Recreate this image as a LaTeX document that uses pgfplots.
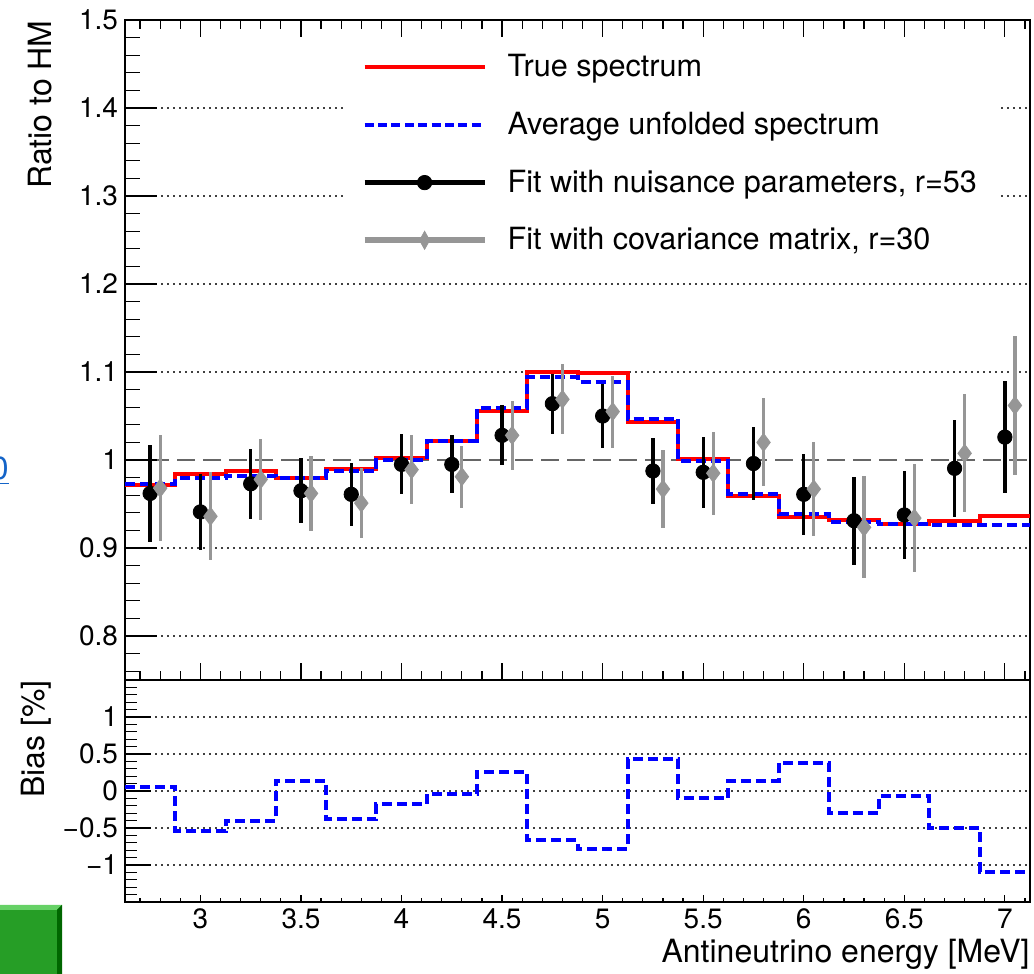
\documentclass[border=0pt]{standalone}
\usepackage{fontspec}
\setmainfont{TeX Gyre Heros}
\usepackage{pgfplots}
\usepackage{pgfplotstable}
\pgfplotsset{compat=1.18}

\definecolor{rootgrey}{RGB}{150,150,150}
\definecolor{linkblue}{RGB}{20,100,200}

% true spectrum (bin left edges, last row = right edge)
\pgfplotstableread{
x y
2.625 0.972
2.875 0.984
3.125 0.987
3.375 0.979
3.625 0.990
3.875 1.002
4.125 1.022
4.375 1.056
4.625 1.100
4.875 1.0985
5.125 1.0436
5.375 1.001
5.625 0.959
5.875 0.9356
6.125 0.932
6.375 0.927
6.625 0.931
6.875 0.936
7.125 0.936
}\truespec

\pgfplotstableread{
x y
2.625 0.973
2.875 0.979
3.125 0.982
3.375 0.980
3.625 0.987
3.875 1.000
4.125 1.022
4.375 1.059
4.625 1.094
4.875 1.089
5.125 1.047
5.375 0.999
5.625 0.961
5.875 0.939
6.125 0.930
6.375 0.927
6.625 0.926
6.875 0.926
7.125 0.926
}\avgspec

\pgfplotstableread{
x y e
2.75 0.962 0.055
3.00 0.941 0.043
3.25 0.973 0.040
3.50 0.965 0.037
3.75 0.961 0.036
4.00 0.995 0.034
4.25 0.995 0.033
4.50 1.028 0.034
4.75 1.064 0.034
5.00 1.050 0.036
5.25 0.9875 0.038
5.50 0.986 0.040
5.75 0.996 0.042
6.00 0.961 0.046
6.25 0.931 0.050
6.50 0.9375 0.050
6.75 0.9905 0.055
7.00 1.026 0.064
}\fitnuis

\pgfplotstableread{
x y e
2.80 0.968 0.060
3.05 0.936 0.050
3.30 0.978 0.046
3.55 0.962 0.043
3.80 0.951 0.040
4.05 0.989 0.039
4.30 0.981 0.035
4.55 1.028 0.039
4.80 1.069 0.040
5.05 1.055 0.041
5.30 0.967 0.044
5.55 0.985 0.047
5.80 1.020 0.050
6.05 0.967 0.053
6.30 0.9235 0.058
6.55 0.934 0.061
6.80 1.0076 0.067
7.05 1.062 0.079
}\fitcov

\pgfplotstableread{
x y
2.625 0.06
2.875 -0.54
3.125 -0.40
3.375 0.14
3.625 -0.38
3.875 -0.18
4.125 -0.04
4.375 0.26
4.625 -0.66
4.875 -0.78
5.125 0.43
5.375 -0.10
5.625 0.14
5.875 0.38
6.125 -0.30
6.375 -0.07
6.625 -0.50
6.875 -1.09
7.125 -1.09
}\bias

\pgfplotsset{
  rootaxis/.style={
    scale only axis, width=452.5pt, xmin=2.625, xmax=7.125,
    anchor=south west,
    axis line style={line width=0.75pt, black},
    tick style={line width=0.6pt, black},
    tick align=inside,
    /pgf/number format/assume math mode=true,
    tick label style={font=\fontsize{14}{16}\selectfont},
  },
  dotgrid/.style={black!75, line width=0.6pt, dash pattern=on 1pt off 2pt},
}

\begin{document}
\begin{tikzpicture}
\useasboundingbox (0pt,0pt) rectangle (517pt,487pt);

% screenshot artefacts at the left edge
\fill[green!55!black!85] (0pt,0pt) rectangle (31pt,34.5pt);
\fill[green!70!black!60] (0pt,34.5pt) -- (31pt,34.5pt) -- (28.5pt,32pt) -- (0pt,32pt) -- cycle;
\fill[green!40!black] (31pt,34.5pt) -- (31pt,0pt) -- (28.5pt,0pt) -- (28.5pt,32pt) -- cycle;
\node[anchor=base east, inner sep=0pt, text=linkblue, font=\fontsize{16}{19}\selectfont] at (4.5pt,247pt) {\underline{0}};

% ---------------- upper panel ----------------
\begin{axis}[rootaxis, at={(62.5pt,147pt)}, height=330pt,
  ymin=0.75, ymax=1.5,
  xtick=\empty,
  ytick={0.8,0.9,1.1,1.2,1.3,1.4,1.5},
  extra y ticks={1},
  minor ytick={0.76,0.78,...,1.49},
  ytick pos=left,
  major tick length=16pt, minor tick length=7.5pt,
  ymajorgrids, grid style={dotgrid},
  extra y tick style={grid style={black!60, line width=0.9pt, dash pattern=on 9pt off 4pt}},
  legend cell align=left,
  legend style={at={(axis cs:3.71,1.4886)}, anchor=north west, fill=white, draw=none,
    font=\fontsize{15.3}{18}\selectfont, row sep=12.2pt, inner xsep=9pt, inner ysep=10pt,
    /tikz/every odd column/.append style={column sep=8pt}},
]
\addplot[const plot, red, line width=2pt,
  legend image code/.code={\draw[red, line width=2pt] (0pt,0pt) -- (60pt,0pt);}]
  table[x=x, y=y] {\truespec};
\addlegendentry{True spectrum}
\addplot[const plot, blue, line width=2pt, dash pattern=on 5pt off 2.5pt,
  legend image code/.code={\draw[blue, line width=2pt, dash pattern=on 4.5pt off 2.2pt] (0pt,0pt) -- (60pt,0pt);}]
  table[x=x, y=y] {\avgspec};
\addlegendentry{Average unfolded spectrum}
\addplot[only marks, mark=*, mark size=3.6pt, black,
  error bars/.cd, y dir=both, y explicit, error mark=none,
  error bar style={line width=1.7pt, black},
  /pgfplots/legend image code/.code={\draw[black, line width=2.5pt] (0pt,0pt) -- (60pt,0pt); \fill[black] (30pt,0pt) circle (3.6pt);}]
  table[x=x, y=y, y error=e] {\fitnuis};
\addlegendentry{Fit with nuisance parameters, r=53}
\addplot[only marks, mark=diamond*, mark size=4.5pt, rootgrey,
  error bars/.cd, y dir=both, y explicit, error mark=none,
  error bar style={line width=1.6pt, rootgrey},
  /pgfplots/legend image code/.code={\draw[rootgrey, line width=3pt] (0pt,0pt) -- (60pt,0pt); \fill[rootgrey] (30pt,-4.5pt) -- (32.5pt,0pt) -- (30pt,4.5pt) -- (27.5pt,0pt) -- cycle;}]
  table[x=x, y=y, y error=e] {\fitcov};
\addlegendentry{Fit with covariance matrix, r=30}
\end{axis}
% x ticks of the upper panel (top and bottom)
\begin{axis}[rootaxis, at={(62.5pt,147pt)}, height=330pt,
  ymin=0.75, ymax=1.5, axis line style={draw=none},
  ytick=\empty, xtick={3,3.5,...,7}, minor xtick={2.7,2.8,...,7.1},
  xticklabels=\empty, xtick pos=both,
  major tick length=8.5pt, minor tick length=4.5pt]
\end{axis}

% ---------------- lower panel ----------------
\begin{axis}[rootaxis, at={(62.5pt,36pt)}, height=111pt,
  ymin=-1.5, ymax=1.5,
  xtick=\empty,
  ytick={-1,-0.5,0,0.5,1},
  yticklabels={−1,−0.5,0,0.5,1},
  minor ytick={-1.4,-1.3,...,1.45},
  ytick pos=left,
  major tick length=13pt, minor tick length=6pt,
  ymajorgrids, grid style={dotgrid},
]
\addplot[const plot, blue, line width=2pt, dash pattern=on 5pt off 2.5pt]
  table[x=x, y=y] {\bias};
\end{axis}
\begin{axis}[rootaxis, at={(62.5pt,36pt)}, height=111pt,
  ymin=-1.5, ymax=1.5, axis line style={draw=none},
  ytick=\empty, xtick={3,3.5,...,7}, minor xtick={2.7,2.8,...,7.1},
  xticklabels={3,3.5,4,4.5,5,5.5,6,6.5,7},
  xtick pos=bottom, xticklabel pos=bottom,
  major tick length=3.5pt, minor tick length=1.75pt]
\end{axis}

% axis titles
\node[rotate=90, anchor=south east, inner sep=0pt, font=\fontsize{16}{19}\selectfont] at (26pt,477pt) {Ratio to HM};
\node[rotate=90, anchor=south east, inner sep=0pt, font=\fontsize{16}{19}\selectfont] at (26pt,147pt) {Bias [\%]};
\node[anchor=base east, inner sep=0pt, font=\fontsize{16}{19}\selectfont] at (515pt,5.5pt) {Antineutrino energy [MeV]};
\end{tikzpicture}
\end{document}
